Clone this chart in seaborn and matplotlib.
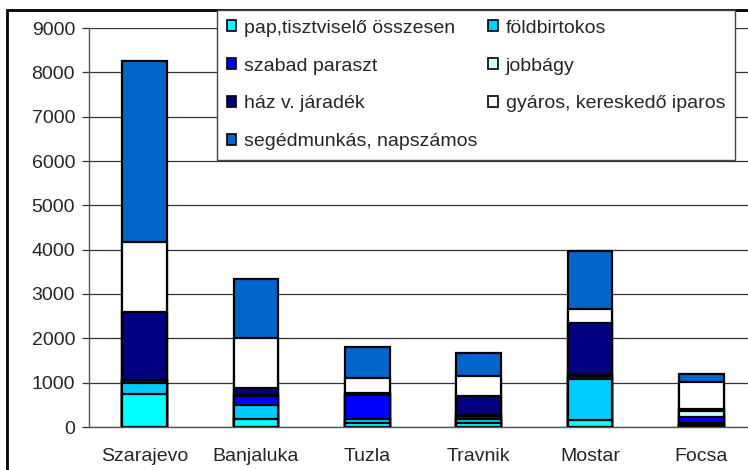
import numpy as np
import matplotlib
matplotlib.use("Agg")
import matplotlib.pyplot as plt
from matplotlib.patches import Patch, Rectangle
import seaborn as sns

# data (approximate)
cities = ["Szarajevo", "Banjaluka", "Tuzla", "Travnik", "Mostar", "Focsa"]
pap = [750, 170, 100, 100, 165, 50]
foldbirtokos = [250, 330, 90, 90, 925, 50]
szabad_paraszt = [50, 190, 540, 50, 50, 125]
jobbagy = [20, 30, 0, 20, 50, 130]
haz = [1520, 160, 45, 440, 1145, 60]
gyaros = [1590, 1120, 330, 450, 320, 600]
segedmunkas = [4080, 1330, 700, 530, 1320, 175]

series_names = ["pap,tisztviselő összesen", "földbirtokos", "szabad paraszt", "jobbágy",
                "ház v. járadék", "gyáros, kereskedő iparos", "segédmunkás, napszámos"]
series_colors = ["#00FFFF", "#00CCFF", "#0000FF", "#CCFFFF", "#000080", "#FFFFFF", "#0066CC"]
yticks = [0, 1000, 2000, 3000, 4000, 5000, 6000, 7000, 8000, 9000]

sns.set_style("white")
plt.rcParams['font.family'] = ['Liberation Sans', 'DejaVu Sans']
plt.rcParams['font.size'] = 14

W, H = 748, 470
fig = plt.figure(figsize=(W / 100, H / 100), dpi=100)
# axes run past the right edge, as in the cropped reference
ax = fig.add_axes([89 / W, 1 - 427 / H, (757 - 89) / W, (427 - 28) / H])

values = np.array([pap, foldbirtokos, szabad_paraszt, jobbagy, haz, gyaros, segedmunkas])
cum = np.cumsum(values, axis=0)

# stacked bars: draw cumulative totals from the top layer down
for i in range(len(series_names) - 1, -1, -1):
    sns.barplot(x=cities, y=cum[i], order=cities, color=series_colors[i], saturation=1,
                width=0.4, edgecolor="black", linewidth=1.6, ax=ax)

ax.set_xlim(-0.5, len(cities) - 0.5)
ax.set_ylim(0, 9000)
ax.set_yticks(yticks)
ax.set_yticklabels([str(v) for v in yticks])
ax.yaxis.grid(True, color="#333333", linewidth=0.9)
ax.set_axisbelow(True)
ax.set_xlabel("")
ax.set_ylabel("")

# category separator ticks
ax.set_xticks(np.arange(len(cities) + 1) - 0.5, minor=True)
ax.tick_params(axis="x", which="major", length=0, pad=15)
ax.tick_params(axis="x", which="minor", length=5, width=0.9, color="#333333", direction="out")
ax.tick_params(axis="y", length=5, width=0.9, color="#333333", direction="out", pad=5, left=True)

for side in ["top", "right"]:
    ax.spines[side].set_visible(False)
ax.spines["left"].set_color("#555555")
ax.spines["bottom"].set_color("#555555")
ax.spines["left"].set_linewidth(1)
ax.spines["bottom"].set_linewidth(1)

# legend, column-major order to match reference layout
order = [0, 2, 4, 6, 1, 3, 5]
handles = [Patch(facecolor=series_colors[k], edgecolor="black", linewidth=1.2) for k in order]
labels = [series_names[k] for k in order]
leg = fig.legend(handles, labels, ncol=2, loc="upper left",
                 bbox_to_anchor=(217 / W, 1 - 10 / H), frameon=True, fancybox=False,
                 handlelength=0.5, handleheight=0.5, handletextpad=0.4,
                 labelspacing=1.07, columnspacing=0.55, borderpad=0.5, borderaxespad=0)
leg.get_frame().set_edgecolor("#444444")
leg.get_frame().set_linewidth(1)
leg.get_frame().set_alpha(1)

# outer chart border (cropped at right and bottom)
fig.add_artist(Rectangle((7 / W, -0.5), 2, 1.5 - 10 / H, transform=fig.transFigure,
                         fill=False, edgecolor="black", linewidth=2, clip_on=False))

fig.savefig("out.png", dpi=100)
